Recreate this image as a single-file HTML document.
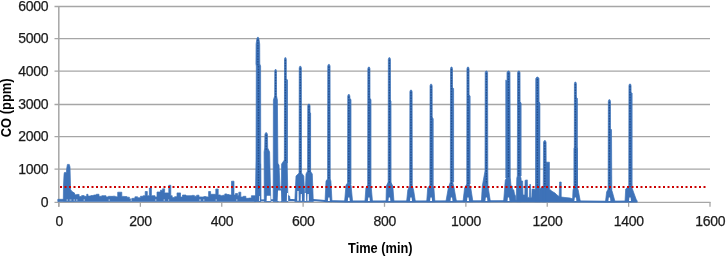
<!DOCTYPE html>
<html><head><meta charset="utf-8"><style>
html,body{margin:0;padding:0;background:#fff;width:726px;height:256px;overflow:hidden}
svg{display:block}
text{font-family:"Liberation Sans",sans-serif}
svg{will-change:transform}
.t{font-size:14px;letter-spacing:-0.3px;fill:#1a1a1a;stroke:#1a1a1a;stroke-width:0.25px}
.b{font-size:13.4px;font-weight:bold;fill:#000}
</style></head><body>
<svg width="726" height="256" viewBox="0 0 726 256">
<g stroke="#a6a6a6" stroke-width="1.3"><line x1="54.5" y1="6.50" x2="710" y2="6.50"/>
<line x1="54.5" y1="38.70" x2="710" y2="38.70"/>
<line x1="54.5" y1="71.10" x2="710" y2="71.10"/>
<line x1="54.5" y1="104.50" x2="710" y2="104.50"/>
<line x1="54.5" y1="136.70" x2="710" y2="136.70"/>
<line x1="54.5" y1="169.10" x2="710" y2="169.10"/>
<line x1="58.8" y1="6" x2="58.8" y2="206.8" stroke-width="1.5"/>
<line x1="54.5" y1="202.4" x2="710.5" y2="202.4" stroke-width="1.3"/>
<line x1="58.80" y1="202" x2="58.80" y2="206.8"/>
<line x1="140.38" y1="202" x2="140.38" y2="206.8"/>
<line x1="221.75" y1="202" x2="221.75" y2="206.8"/>
<line x1="303.12" y1="202" x2="303.12" y2="206.8"/>
<line x1="384.50" y1="202" x2="384.50" y2="206.8"/>
<line x1="465.88" y1="202" x2="465.88" y2="206.8"/>
<line x1="547.25" y1="202" x2="547.25" y2="206.8"/>
<line x1="628.62" y1="202" x2="628.62" y2="206.8"/>
<line x1="710.00" y1="202" x2="710.00" y2="206.8"/></g>
<g fill="#3e72b8" stroke="#3e72b8" stroke-width="0.7" stroke-linejoin="round"><polygon points="57.80,199.30 61.90,199.30 62.00,199.30 71.50,199.30 71.50,192.90 74.30,192.90 74.30,194.72 76.70,194.72 76.70,194.44 79.10,194.44 79.10,196.54 81.63,196.54 81.63,195.62 84.17,195.62 84.17,196.36 86.70,196.36 86.70,194.30 88.00,194.30 88.00,196.09 90.80,196.09 90.80,195.59 93.60,195.59 93.60,195.01 96.30,195.01 96.30,194.26 99.00,194.26 99.00,196.30 101.80,196.30 101.80,195.70 106.00,195.70 106.00,196.89 108.30,196.89 108.30,196.31 110.60,196.31 110.60,196.35 112.90,196.35 112.90,196.18 115.30,196.18 115.30,196.82 117.70,196.82 117.70,192.20 121.80,192.20 121.80,196.40 124.33,196.40 124.33,196.56 126.87,196.56 126.87,197.20 129.40,197.20 129.40,198.92 132.15,198.92 132.15,198.32 134.90,198.32 134.90,196.83 137.67,196.83 137.67,197.76 140.43,197.76 140.43,196.27 143.20,196.27 143.20,195.70 145.20,195.70 145.20,191.50 147.30,191.50 147.30,195.70 149.40,195.70 149.40,188.10 151.40,188.10 151.40,195.70 155.00,195.70 155.00,197.00 157.00,197.00 157.00,192.00 160.50,192.00 160.50,190.20 162.60,190.20 162.60,188.80 164.60,188.80 164.60,192.90 168.80,192.90 168.80,185.30 170.80,185.30 170.80,195.70 172.20,195.70 172.20,197.57 174.60,197.57 174.60,196.66 177.00,196.66 177.00,192.90 180.50,192.90 180.50,197.00 182.50,197.00 182.50,195.00 186.00,195.00 186.00,195.73 189.00,195.73 189.00,195.69 192.00,195.69 192.00,195.39 194.33,195.39 194.33,196.21 196.67,196.21 196.67,195.19 199.00,195.19 199.00,196.93 201.40,196.93 201.40,197.02 203.80,197.02 203.80,196.60 206.20,196.60 206.20,196.88 208.60,196.88 208.60,191.50 210.60,191.50 210.60,194.30 213.20,194.30 213.20,194.30 215.80,194.30 215.80,189.00 218.20,189.00 218.20,194.93 220.40,194.93 220.40,195.69 222.60,195.69 222.60,195.28 224.80,195.28 224.80,193.90 226.80,193.90 226.80,194.50 229.15,194.50 229.15,194.94 231.50,194.94 231.50,181.20 234.00,181.20 234.00,195.00 235.50,195.00 235.50,193.50 237.50,193.50 237.50,195.50 238.80,195.50 238.80,192.20 240.80,192.20 240.80,197.00 243.20,197.00 243.20,196.30 245.90,196.30 245.90,198.33 248.65,198.33 248.65,198.08 251.40,198.08 251.40,195.70 255.50,195.70 255.50,201.60 57.80,201.60"/>
<polygon points="63.30,201.00 63.50,185.00 64.00,175.00 64.30,172.60 66.30,172.60 66.80,168.00 67.40,164.40 69.30,164.40 70.00,167.00 70.60,189.50 72.00,191.50 74.30,193.00 74.30,201.00"/>
<polygon points="264.30,201.60 264.10,152.00 264.70,148.00 264.93,134.20 265.70,132.70 266.70,132.70 267.47,134.20 267.70,148.00 269.60,152.00 270.80,201.60"/>
<polygon points="273.20,201.60 273.40,100.00 274.65,96.00 274.79,71.10 275.10,69.60 276.10,69.60 276.41,71.10 276.55,96.00 277.40,100.00 278.20,201.60"/>
<polygon points="281.20,201.60 281.60,164.00 284.35,160.00 284.51,59.20 284.90,57.70 285.90,57.70 286.29,59.20 286.45,160.00 287.20,164.00 288.00,201.60"/>
<polygon points="294.80,201.60 296.00,176.00 299.05,173.00 299.24,67.80 299.80,66.30 300.80,66.30 301.36,67.80 301.55,173.00 303.80,176.00 304.90,201.60"/>
<polygon points="304.90,201.60 306.00,174.00 307.55,171.00 307.75,105.60 308.40,104.10 309.40,104.10 310.05,105.60 310.25,171.00 312.30,174.00 313.30,201.60"/>
<polygon points="325.00,201.60 326.00,181.00 327.55,179.00 327.75,65.90 328.40,64.40 329.40,64.40 330.05,65.90 330.25,179.00 330.90,181.00 332.00,201.60"/>
<polygon points="344.60,201.60 346.00,185.00 347.55,183.00 347.74,96.00 348.30,94.50 349.30,94.50 349.86,96.00 350.05,183.00 351.00,185.00 352.60,201.60"/>
<polygon points="364.90,201.60 365.90,188.00 367.65,185.00 367.84,68.60 368.40,67.10 369.40,67.10 369.96,68.60 370.15,185.00 371.30,188.00 372.50,201.60"/>
<polygon points="386.00,201.60 386.40,186.00 388.15,182.00 388.34,59.20 388.90,57.70 389.90,57.70 390.46,59.20 390.65,182.00 392.80,186.00 394.00,201.60"/>
<polygon points="406.60,201.60 407.80,190.00 409.70,186.00 409.89,91.60 410.50,90.10 411.50,90.10 412.11,91.60 412.30,186.00 413.60,190.00 415.40,201.60"/>
<polygon points="426.70,201.60 427.70,188.00 429.85,185.00 430.04,85.70 430.60,84.20 431.60,84.20 432.16,85.70 432.35,185.00 433.90,188.00 434.90,201.60"/>
<polygon points="445.90,201.60 448.30,188.00 450.35,182.00 450.52,68.60 451.00,67.10 452.00,67.10 452.48,68.60 452.65,182.00 454.10,188.00 456.50,201.60"/>
<polygon points="463.00,201.60 464.60,188.00 466.75,184.00 466.94,68.60 467.50,67.10 468.50,67.10 469.06,68.60 469.25,184.00 470.80,188.00 472.90,201.60"/>
<polygon points="481.40,201.60 482.30,186.00 485.00,171.00 485.21,72.50 485.90,71.00 486.90,71.00 487.59,72.50 487.80,171.00 488.00,186.00 490.40,201.60"/>
<polygon points="503.60,201.60 505.30,180.00 506.75,178.00 507.01,72.50 508.00,71.00 509.00,71.00 509.99,72.50 510.25,178.00 510.50,180.00 512.20,201.60"/>
<polygon points="516.20,201.60 516.80,178.00 517.35,176.00 517.57,72.50 518.30,71.00 519.30,71.00 520.03,72.50 520.25,176.00 521.00,178.00 521.20,201.60"/>
<polygon points="534.80,201.60 535.00,190.00 535.50,188.00 535.78,78.50 536.90,77.00 537.90,77.00 539.01,78.50 539.30,188.00 539.80,190.00 540.00,201.60"/>
<polygon points="542.00,201.60 542.20,189.00 543.30,186.00 543.52,142.10 544.30,140.60 545.30,140.60 546.07,142.10 546.30,186.00 546.30,189.00 546.30,201.60"/>
<polygon points="572.50,201.60 573.00,190.00 574.25,186.00 574.42,83.60 574.90,82.10 575.90,82.10 576.38,83.60 576.55,186.00 578.20,190.00 580.40,201.60"/>
<polygon points="605.50,201.60 606.60,192.00 608.15,189.00 608.34,101.20 608.90,99.70 609.90,99.70 610.46,101.20 610.65,189.00 612.40,192.00 615.00,201.60"/>
<polygon points="625.00,201.60 625.70,189.00 628.75,186.00 628.94,85.50 629.50,84.00 630.50,84.00 631.06,85.50 631.25,186.00 632.40,189.00 637.00,201.60"/>
<polygon points="255.40,201.40 255.60,186.00 256.00,160.00 256.30,66.00 255.95,64.00 256.10,44.00 256.90,38.60 257.50,37.30 258.30,37.30 258.90,38.60 259.70,44.00 259.80,64.00 260.60,66.00 260.80,201.40"/>
<polygon points="259.00,164.00 260.60,164.00 260.80,201.00 259.00,201.00"/>
<polygon points="277.30,163.00 279.00,165.00 280.00,188.00 281.50,190.00 281.70,201.00 277.00,201.00"/>
<polygon points="286.50,79.00 287.50,80.00 287.50,163.00 286.50,163.00"/>
<polygon points="309.00,112.80 310.60,113.00 310.60,173.00 309.00,173.00"/>
<polygon points="286.00,195.00 289.50,196.00 290.00,199.00 286.00,200.00"/>
<polygon points="546.00,162.20 549.40,162.20 549.40,189.00 552.00,191.30 555.00,193.00 557.00,195.00 559.20,196.60 559.60,182.00 561.20,182.00 561.20,197.00 565.00,197.50 570.00,198.00 573.00,199.00 573.00,201.50 546.00,201.50"/>
<polygon points="510.40,201.50 510.40,186.00 512.30,186.00 512.50,189.00 513.80,190.00 514.50,194.00 515.50,196.00 516.00,201.50"/>
<polygon points="519.00,201.50 519.00,177.00 520.50,178.00 521.00,181.00 522.60,181.00 523.00,195.00 524.80,195.00 525.10,180.30 527.30,179.90 527.70,197.40 529.50,197.40 529.70,184.50 530.50,184.50 530.70,197.40 531.80,197.40 532.10,189.00 534.60,189.00 535.30,192.00 535.50,201.50"/>
<polygon points="539.50,201.50 539.70,189.00 543.30,186.00 543.30,201.50"/>
<polygon points="574.00,148.00 577.30,148.00 577.50,188.00 574.00,188.00"/>
<polygon points="349.80,98.70 351.00,99.50 351.00,184.00 349.80,184.00"/>
<polygon points="369.90,98.70 371.00,99.50 371.00,186.00 369.90,186.00"/>
<polygon points="432.10,117.50 433.20,118.50 433.20,186.00 432.10,186.00"/>
<polygon points="389.90,100.00 391.00,101.00 391.00,184.00 389.90,184.00"/>
<polygon points="452.50,87.50 453.60,88.50 453.60,182.00 452.50,182.00"/>
<polygon points="469.10,95.00 470.10,96.00 470.10,184.00 469.10,184.00"/>
<polygon points="505.80,80.00 506.90,81.00 506.90,178.00 505.80,178.00"/>
<polygon points="520.10,102.00 521.10,103.00 521.10,176.00 520.10,176.00"/>
<polygon points="538.90,102.00 539.90,103.00 539.90,188.00 538.90,188.00"/>
<polygon points="576.40,97.50 577.40,98.50 577.40,186.00 576.40,186.00"/>
<polygon points="631.10,92.50 632.10,93.50 632.10,186.00 631.10,186.00"/>
<polygon points="609.40,129.30 611.50,129.60 611.80,192.00 609.40,192.00"/>
<polyline points="254,200.5 292,200 300,200.5 313,200 325,201 345,201.5 380,201.5 420,201.5 500,201.3 580,201.6 605,201.8 637.5,201.6" fill="none" stroke-width="2"/></g>
<g stroke="#234f8e" stroke-width="1.3" stroke-dasharray="1.5 1.2"><line x1="257.9" y1="39.5" x2="257.9" y2="66"/>
<line x1="258.5" y1="66" x2="258.5" y2="190"/>
<line x1="266.2" y1="134.7" x2="266.2" y2="150.0"/>
<line x1="275.6" y1="71.6" x2="275.6" y2="98.0"/>
<line x1="285.4" y1="59.7" x2="285.4" y2="162.0"/>
<line x1="300.3" y1="68.3" x2="300.3" y2="174.0"/>
<line x1="308.9" y1="106.1" x2="308.9" y2="172.0"/>
<line x1="328.9" y1="66.4" x2="328.9" y2="179.0"/>
<line x1="348.8" y1="96.5" x2="348.8" y2="183.0"/>
<line x1="368.9" y1="69.1" x2="368.9" y2="186.0"/>
<line x1="389.4" y1="59.7" x2="389.4" y2="184.0"/>
<line x1="411.0" y1="92.1" x2="411.0" y2="188.0"/>
<line x1="431.1" y1="86.2" x2="431.1" y2="186.0"/>
<line x1="451.5" y1="69.1" x2="451.5" y2="186.0"/>
<line x1="468.0" y1="69.1" x2="468.0" y2="186.0"/>
<line x1="486.4" y1="73.0" x2="486.4" y2="184.0"/>
<line x1="508.5" y1="73.0" x2="508.5" y2="178.0"/>
<line x1="518.8" y1="73.0" x2="518.8" y2="176.0"/>
<line x1="537.4" y1="79.0" x2="537.4" y2="188.0"/>
<line x1="544.8" y1="142.6" x2="544.8" y2="187.0"/>
<line x1="575.4" y1="84.1" x2="575.4" y2="188.0"/>
<line x1="609.4" y1="101.7" x2="609.4" y2="190.0"/>
<line x1="630.0" y1="86.0" x2="630.0" y2="187.0"/></g>
<g fill="#fff"><polygon points="327.90,201.00 328.30,197.50 329.50,197.50 329.90,201.00"/>
<polygon points="347.80,201.00 348.20,197.50 349.40,197.50 349.80,201.00"/>
<polygon points="367.90,201.00 368.30,197.50 369.50,197.50 369.90,201.00"/>
<polygon points="388.40,201.00 388.80,197.50 390.00,197.50 390.40,201.00"/>
<polygon points="410.00,201.00 410.40,197.50 411.60,197.50 412.00,201.00"/>
<polygon points="430.10,201.00 430.50,197.50 431.70,197.50 432.10,201.00"/>
<polygon points="450.50,201.00 450.90,197.50 452.10,197.50 452.50,201.00"/>
<polygon points="467.00,201.00 467.40,197.50 468.60,197.50 469.00,201.00"/>
<polygon points="485.40,201.00 485.80,197.50 487.00,197.50 487.40,201.00"/>
<polygon points="507.50,201.00 507.90,197.50 509.10,197.50 509.50,201.00"/>
<polygon points="574.40,201.00 574.80,197.50 576.00,197.50 576.40,201.00"/>
<polygon points="608.40,201.00 608.80,197.50 610.00,197.50 610.40,201.00"/>
<polygon points="629.00,201.00 629.40,197.50 630.60,197.50 631.00,201.00"/>
<polygon points="297.20,200.80 297.40,191.00 298.60,191.00 298.80,200.80"/>
<polygon points="300.60,200.80 300.80,194.00 301.80,194.00 302.00,200.80"/>
<polygon points="307.30,200.80 307.50,194.00 308.70,194.00 308.90,200.80"/>
<polygon points="266.60,201.00 266.80,195.70 270.40,195.70 270.60,201.00"/>
<polygon points="277.60,201.00 278.00,190.50 281.00,190.50 281.30,201.00"/>
<polygon points="286.80,201.00 287.00,193.00 288.00,193.00 288.20,201.00"/>
<polygon points="259.20,201.00 259.30,196.00 259.90,196.00 260.00,201.00"/>
<polygon points="304.60,201.00 304.80,193.00 306.00,193.00 306.20,201.00"/>
<rect x="66.5" y="199.4" width="1.5" height="1.3" opacity="0.55"/>
<rect x="69.5" y="199.4" width="2.0" height="1.3" opacity="0.55"/>
<rect x="73.5" y="199.4" width="1.5" height="1.3" opacity="0.55"/>
<rect x="76.0" y="199.4" width="1.5" height="1.3" opacity="0.55"/>
<rect x="83.5" y="199.4" width="1.5" height="1.3" opacity="0.55"/>
<rect x="108.5" y="199.4" width="1.5" height="1.3" opacity="0.55"/>
<rect x="130.5" y="199.4" width="1.5" height="1.3" opacity="0.55"/>
<rect x="155.0" y="199.4" width="1.5" height="1.3" opacity="0.55"/>
<rect x="163.5" y="199.4" width="1.5" height="1.3" opacity="0.55"/>
<rect x="168.0" y="199.4" width="1.2" height="1.3" opacity="0.55"/>
<rect x="199.0" y="199.4" width="2.0" height="1.3" opacity="0.55"/>
<rect x="203.0" y="199.4" width="1.5" height="1.3" opacity="0.55"/>
<rect x="215.5" y="199.4" width="1.5" height="1.3" opacity="0.55"/>
<rect x="236.0" y="199.4" width="1.5" height="1.3" opacity="0.55"/></g>
<line x1="60" y1="187" x2="706" y2="187" stroke="#cc0000" stroke-width="2" stroke-dasharray="2 2.5"/>
<g class="t"><text x="48.3" y="11.00" text-anchor="end">6000</text>
<text x="48.3" y="43.20" text-anchor="end">5000</text>
<text x="48.3" y="75.60" text-anchor="end">4000</text>
<text x="48.3" y="109.00" text-anchor="end">3000</text>
<text x="48.3" y="141.20" text-anchor="end">2000</text>
<text x="48.3" y="173.60" text-anchor="end">1000</text>
<text x="48.3" y="206.90" text-anchor="end">0</text></g>
<g class="t"><text x="59.20" y="225.8" text-anchor="middle">0</text>
<text x="140.57" y="225.8" text-anchor="middle">200</text>
<text x="221.95" y="225.8" text-anchor="middle">400</text>
<text x="303.32" y="225.8" text-anchor="middle">600</text>
<text x="384.70" y="225.8" text-anchor="middle">800</text>
<text x="466.07" y="225.8" text-anchor="middle">1000</text>
<text x="547.45" y="225.8" text-anchor="middle">1200</text>
<text x="628.83" y="225.8" text-anchor="middle">1400</text>
<text x="710.20" y="225.8" text-anchor="middle">1600</text></g>
<text class="b" style="font-size:13.8px" transform="translate(380.3,252.9) scale(0.928,1)" text-anchor="middle">Time (min)</text>
<text class="b" style="font-size:13.8px" transform="translate(11.0,107.8) rotate(-90) scale(0.937,1)" text-anchor="middle">CO (ppm)</text>
</svg>
</body></html>
